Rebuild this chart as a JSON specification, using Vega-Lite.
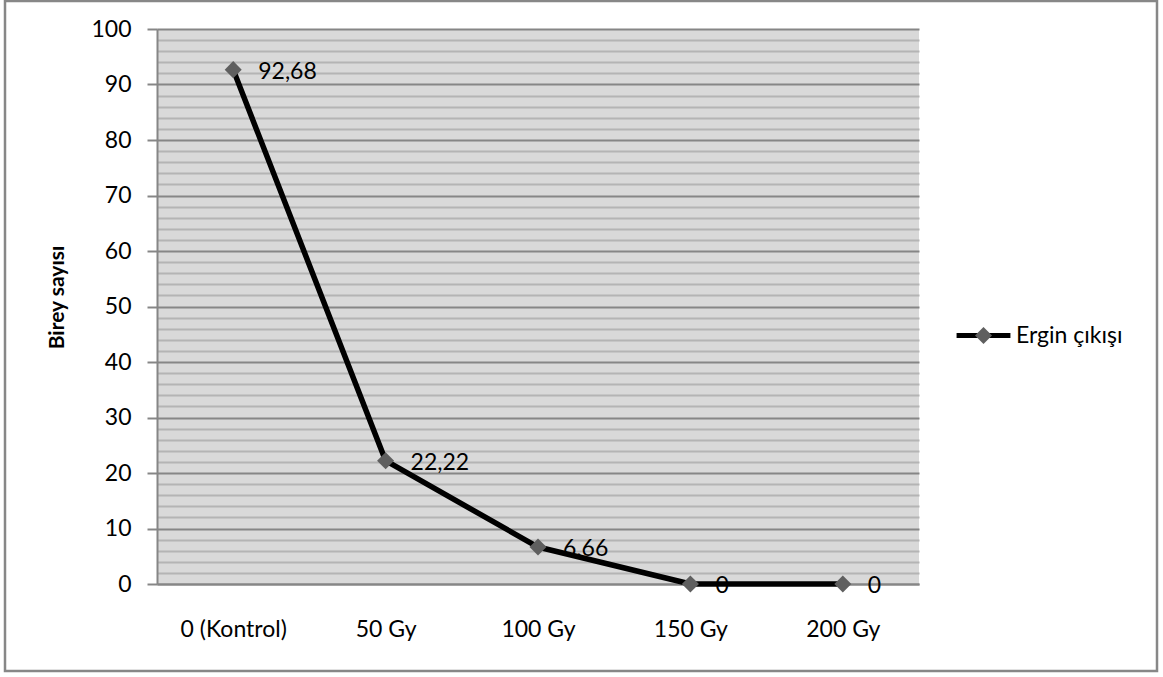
{
  "$schema": "https://vega.github.io/schema/vega-lite/v6.json",
  "autosize": "none",
  "width": 762,
  "height": 555,
  "padding": {"left": 157, "top": 29, "right": 244, "bottom": 93},
  "background": "white",
  "config": {
    "font": "Lato",
    "view": {"fill": "#d9d9d9", "stroke": null},
    "locale": {
      "number": {"decimal": ",", "thousands": ".", "grouping": [3], "currency": ["", " TL"]}
    },
    "axis": {"labelFont": "Lato", "labelFontSize": 23, "labelColor": "#000000", "titleFont": "Lato"},
    "legend": {"labelFont": "Lato", "labelFontSize": 23, "labelColor": "#000000", "padding": 0}
  },
  "data": {
    "values": [
      {"doz": "0 (Kontrol)", "birey": 92.68, "seri": "Ergin çıkışı"},
      {"doz": "50 Gy", "birey": 22.22, "seri": "Ergin çıkışı"},
      {"doz": "100 Gy", "birey": 6.66, "seri": "Ergin çıkışı"},
      {"doz": "150 Gy", "birey": 0, "seri": "Ergin çıkışı"},
      {"doz": "200 Gy", "birey": 0, "seri": "Ergin çıkışı"}
    ]
  },
  "resolve": {"axis": {"y": "independent"}},
  "layer": [
    {
      "mark": {"type": "line", "strokeWidth": 5.5, "strokeJoin": "round"},
      "encoding": {
        "x": {
          "field": "doz",
          "type": "ordinal",
          "sort": null,
          "scale": {"type": "point", "padding": 0.5},
          "axis": {
            "title": null,
            "labelAngle": 0,
            "ticks": false,
            "tickSize": 0,
            "labelPadding": 34,
            "domainColor": "#868686",
            "domainWidth": 2,
            "grid": false
          }
        },
        "y": {
          "field": "birey",
          "type": "quantitative",
          "scale": {"domain": [0, 100], "nice": false, "zero": true},
          "axis": {
            "orient": "left",
            "title": null,
            "values": [2, 4, 6, 8, 12, 14, 16, 18, 22, 24, 26, 28, 32, 34, 36, 38, 42, 44, 46, 48, 52, 54, 56, 58, 62, 64, 66, 68, 72, 74, 76, 78, 82, 84, 86, 88, 92, 94, 96, 98],
            "grid": true,
            "gridColor": "#b4b4b4",
            "gridWidth": 2,
            "labels": false,
            "ticks": false,
            "domain": false
          }
        },
        "stroke": {
          "field": "seri",
          "type": "nominal",
          "scale": {"range": ["#000000"]},
          "legend": {
            "title": null,
            "orient": "none",
            "legendX": 797,
            "legendY": 277,
            "symbolType": "stroke",
            "symbolSize": 2900,
            "symbolStrokeWidth": 5,
            "labelOffset": 3,
            "zindex": 1
          }
        }
      }
    },
    {
      "mark": {"type": "point", "filled": true, "shape": "diamond", "size": 290, "opacity": 1},
      "encoding": {
        "x": {"field": "doz", "type": "ordinal", "sort": null},
        "y": {
          "field": "birey",
          "type": "quantitative",
          "axis": {
            "orient": "left",
            "title": "Birey sayısı",
            "titleFontSize": 21,
            "titleFontWeight": "bold",
            "titleColor": "#000000",
            "titleX": -100,
            "titleY": 268,
            "titleAlign": "center",
            "titleBaseline": "middle",
            "titleAngle": -90,
            "values": [0, 10, 20, 30, 40, 50, 60, 70, 80, 90, 100],
            "grid": true,
            "gridColor": "#868686",
            "gridWidth": 2,
            "domain": true,
            "domainColor": "#868686",
            "domainWidth": 2,
            "ticks": true,
            "tickSize": 10,
            "tickColor": "#868686",
            "tickWidth": 2,
            "labelPadding": 16
          }
        },
        "fill": {
          "field": "seri",
          "type": "nominal",
          "scale": {"domain": ["Ergin çıkışı"], "range": ["#5f5f5f"]},
          "legend": {
            "title": null,
            "orient": "none",
            "legendX": 815,
            "legendY": 295,
            "symbolType": "diamond",
            "symbolSize": 290,
            "symbolStrokeWidth": 0,
            "labelExpr": "''",
            "zindex": 2
          }
        }
      }
    },
    {
      "mark": {"type": "text", "align": "left", "baseline": "middle", "dx": 25, "dy": 2, "fontSize": 23, "font": "Lato", "color": "#000000"},
      "encoding": {
        "x": {"field": "doz", "type": "ordinal", "sort": null},
        "y": {"field": "birey", "type": "quantitative", "axis": null},
        "text": {"field": "birey", "type": "quantitative", "format": ".4~g"}
      }
    },
    {
      "data": {"values": [{"cerceve": "grafik alanı"}]},
      "mark": {"type": "rect", "fill": null, "stroke": "#878787", "strokeWidth": 2.5},
      "encoding": {
        "x": {"value": -152},
        "x2": {"value": 1000},
        "y": {"value": -28},
        "y2": {"value": 642}
      }
    }
  ]
}
